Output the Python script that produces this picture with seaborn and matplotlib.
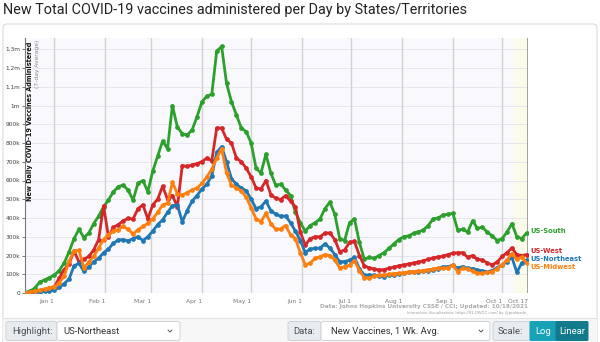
import numpy as np
import pandas as pd
import matplotlib
matplotlib.use("Agg")
import matplotlib.pyplot as plt
from matplotlib.patches import Rectangle, FancyBboxPatch
import seaborn as sns

# ---- data: 7-day average of new vaccine doses (thousands), every 3 days ----
dates = pd.date_range("2020-12-14", periods=103, freq="3D")

us_south = [2, 10, 25, 58, 70, 82, 96, 120, 160, 220,
            290, 340, 295, 320, 370, 410, 460, 496, 540, 567,
            576, 548, 496, 585, 600, 540, 650, 730, 810, 770,
            1000, 885, 850, 843, 870, 940, 1020, 1050, 1060, 1290,
            1315, 1118, 1020, 950, 880, 860, 800, 665, 640, 740,
            640, 575, 580, 550, 520, 430, 375, 330, 360, 375,
            395, 450, 485, 420, 290, 280, 375, 395, 270, 180,
            190, 185, 200, 215, 238, 262, 285, 300, 305, 318,
            327, 336, 360, 395, 400, 416, 420, 425, 335, 340,
            325, 385, 345, 350, 325, 305, 280, 290, 325, 370,
            300, 290, 320]
us_west = [0, 3, 8, 12, 18, 25, 34, 80, 125, 155,
           225, 165, 180, 195, 230, 285, 465, 300, 350, 365,
           385, 398, 395, 450, 470, 395, 470, 500, 570, 500,
           520, 460, 680, 675, 683, 690, 701, 720, 705, 880,
           880, 820, 800, 720, 700, 665, 620, 560, 555, 600,
           525, 505, 498, 520, 490, 460, 325, 255, 290, 300,
           300, 320, 320, 285, 220, 230, 270, 275, 200, 145,
           135, 128, 123, 125, 132, 138, 145, 150, 155, 160,
           165, 172, 180, 187, 193, 196, 205, 212, 215, 215,
           190, 200, 180, 176, 160, 150, 165, 195, 215, 240,
           205, 200, 205]
us_northeast = [0, 2, 4, 6, 9, 12, 16, 30, 50, 75,
                145, 158, 115, 140, 167, 185, 215, 235, 265, 283,
                285, 278, 290, 300, 280, 300, 330, 365, 390, 430,
                465, 469, 380, 440, 490, 520, 555, 580, 625, 750,
                780, 700, 610, 580, 560, 545, 500, 450, 460, 490,
                440, 420, 410, 410, 375, 330, 280, 215, 235, 238,
                240, 262, 240, 205, 167, 168, 175, 190, 130, 96,
                96, 95, 90, 88, 95, 96, 103, 106, 110, 114,
                114, 116, 120, 124, 130, 140, 141, 148, 132, 141,
                132, 130, 123, 118, 114, 120, 135, 150, 167, 190,
                110, 160, 176]
us_midwest = [0, 4, 10, 15, 22, 28, 34, 55, 90, 170,
              225, 228, 135, 165, 195, 240, 285, 312, 330, 338,
              355, 340, 315, 338, 355, 372, 395, 430, 470, 478,
              590, 530, 523, 535, 550, 560, 585, 620, 660, 720,
              770, 640, 575, 560, 545, 510, 455, 395, 380, 425,
              370, 340, 342, 360, 310, 290, 215, 150, 160, 185,
              194, 205, 200, 176, 135, 140, 148, 172, 120, 82,
              80, 90, 95, 96, 100, 104, 105, 108, 113, 114,
              116, 120, 124, 128, 132, 132, 135, 148, 114, 132,
              128, 118, 105, 105, 110, 114, 130, 150, 176, 210,
              180, 190, 160]

regions = ["US-South", "US-West", "US-Northeast", "US-Midwest"]
colors = ["#2ca02c", "#d62728", "#1f77b4", "#ff7f0e"]
label_y = [331, 225, 182, 139]          # thousands, end-label positions

month_ticks = ["2021-01-01", "2021-02-01", "2021-03-01", "2021-04-01", "2021-05-01",
               "2021-06-01", "2021-07-01", "2021-08-01", "2021-09-01", "2021-10-01",
               "2021-10-17"]
month_labels = ["Jan 1", "Feb 1", "Mar 1", "Apr 1", "May 1", "Jun 1",
                "Jul 1", "Aug 1", "Sep 1", "Oct 1", "Oct 17"]
y_ticks = [0, 100, 200, 300, 400, 500, 600, 700, 800, 900, 1000, 1100, 1200, 1300]
y_labels = ["0", "100k", "200k", "300k", "400k", "500k", "600k", "700k", "800k",
            "900k", "1m", "1.1m", "1.2m", "1.3m"]

df = pd.DataFrame({
    "date": np.tile(dates, 4),
    "value": us_south + us_west + us_northeast + us_midwest,
    "region": np.repeat(regions, len(dates)),
})

sns.set_theme(style="white")
plt.rcParams["font.family"] = ["DejaVu Sans"]

W, H = 600, 342
fig = plt.figure(figsize=(W / 100, H / 100), dpi=100)
fig.patch.set_facecolor("white")

# overlay in pixel units for page furniture
bg = fig.add_axes([0, 0, 1, 1], zorder=0)
bg.set_xlim(0, W)
bg.set_ylim(H, 0)
bg.axis("off")

# card + footer
bg.add_patch(FancyBboxPatch((3, 24), 594, 330, boxstyle="round,pad=0,rounding_size=4",
                            fc="white", ec="#dcdcdc", lw=0.8))
bg.add_patch(Rectangle((3, 318), 594, 30, fc="#f7f7f7", ec="none"))
bg.plot([3, 597], [318, 318], color="#e2e2e2", lw=0.8)

bg.text(3, 10, "New Total COVID-19 vaccines administered per Day by States/Territories",
        family="Roboto", fontsize=10.4, color="#222", ha="left", va="center")


def box(x0, x1, fc, ec="#ced4da", rs=2.5):
    bg.add_patch(FancyBboxPatch((x0, 321.5), x1 - x0, 19, boxstyle=f"round,pad=0,rounding_size={rs}",
                                fc=fc, ec=ec, lw=0.7))


def chevron(xc):
    bg.plot([xc - 2, xc, xc + 2], [330, 332, 330], color="#555", lw=0.7)


box(6, 57, "#e9ecef")
bg.text(12, 331, "Highlight:", family="Roboto", fontsize=6.8, color="#495057", va="center")
box(57, 180, "white")
bg.text(63, 331, "US-Northeast", family="Roboto", fontsize=6.8, color="#333", va="center")
chevron(170)
box(288, 321, "#e9ecef")
bg.text(293, 331, "Data:", family="Roboto", fontsize=6.8, color="#495057", va="center")
box(321, 490, "white")
bg.text(331, 331, "New Vaccines, 1 Wk. Avg.", family="Roboto", fontsize=6.8, color="#333", va="center")
chevron(481)
box(493, 530, "#e9ecef")
bg.text(498, 331, "Scale:", family="Roboto", fontsize=6.8, color="#495057", va="center")
box(530, 556, "#17a2b8", ec="#17a2b8", rs=1)
bg.text(543, 331, "Log", family="Roboto", fontsize=6.8, color="white", va="center", ha="center")
box(556, 588, "#117a8b", ec="#117a8b", rs=1)
bg.text(572, 331, "Linear", family="Roboto", fontsize=6.8, color="white", va="center", ha="center")

bg.text(528, 306.5, "Data: Johns Hopkins University CSSE / CCI; Updated: 10/18/2021",
        fontsize=4.15, color="#ababab", weight="bold", ha="right", va="center")
bg.text(528, 313, "Interactive Visualization: https://91-DIVOC.com/ by @profwade_",
        fontsize=2.7, color="#999", ha="right", va="center")

# ---- main plot ----
L, R, T, B = 25, 528.3, 38, 293
ax = fig.add_axes([L / W, 1 - B / H, (R - L) / W, (B - T) / H], zorder=2)
ax.set_facecolor("#f9f9fd")

jan1 = pd.Timestamp("2021-01-01")
ax.set_xlim(jan1 + pd.Timedelta(days=-17.9), jan1 + pd.Timedelta(days=289))
ax.set_ylim(0, 1360)

ax.axvspan(pd.Timestamp("2021-10-08"), pd.Timestamp("2021-10-17"), color="#fbfbea", zorder=0)
for yv in y_ticks[1:]:
    ax.axhline(yv, color="#e6e6ee", lw=0.7, zorder=0.5)
for t in month_ticks[:-1]:
    ax.axvline(pd.Timestamp(t), color="#d2d2d2", lw=1.0, zorder=0.6)
ax.axvline(pd.Timestamp(month_ticks[-1]), color="#9a9a9a", lw=1.3, zorder=0.6)

sns.lineplot(data=df, x="date", y="value", hue="region", hue_order=regions,
             palette=colors, marker="o", markersize=3.4, markeredgewidth=0,
             linewidth=2.0, legend=False, ax=ax, zorder=3)

ax.set_xticks(pd.to_datetime(month_ticks))
ax.set_xticklabels(month_labels)
ax.set_yticks(y_ticks)
ax.set_yticklabels(y_labels)
ax.tick_params(axis="x", length=4, width=1, color="#d2d2d2", pad=0.5, labelsize=4.3,
               labelcolor="#777")
ax.tick_params(axis="y", length=2.5, width=0.6, color="#666", pad=1, labelsize=4.2,
               labelcolor="#444", left=True)
for lab in ax.get_xticklabels():
    lab.set_horizontalalignment("right")
ax.set_xlabel("")
ax.set_ylabel("")
for s in ["top", "right", "bottom"]:
    ax.spines[s].set_visible(False)
ax.spines["left"].set_color("#777")
ax.spines["left"].set_linewidth(0.8)

# axis title inside the plot
ax.text(5.5 / (R - L), 1 - 4 / (B - T), "New Daily COVID-19 Vaccines Administered",
        transform=ax.transAxes, rotation=90, ha="center", va="top",
        fontsize=4.7, weight="bold", color="#111")
ax.text(13 / (R - L), 1 - 2 / (B - T), "(7-day Average)",
        transform=ax.transAxes, rotation=90, ha="center", va="top",
        fontsize=4.3, color="#888")

# end-of-line labels
end_x = pd.Timestamp("2021-10-18")
for name, col, yv in zip(regions, colors, label_y):
    ax.text(end_x, yv, name, color=col, fontsize=4.9, weight="bold",
            ha="left", va="center", clip_on=False)

fig.savefig("out.png", dpi=100)
